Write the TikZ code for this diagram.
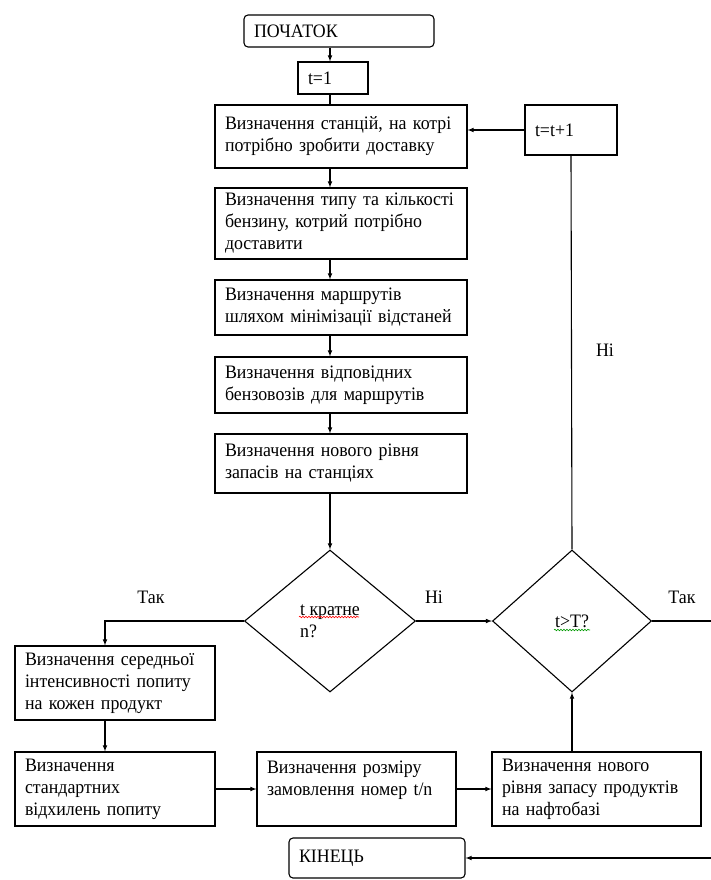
\documentclass[tikz,border=0pt]{standalone}
\usepackage{fontspec}
\setmainfont{Liberation Serif}[FakeStretch=0.94]
\usetikzlibrary{arrows,shapes.geometric,decorations.pathmorphing}

\begin{document}
\begin{tikzpicture}[x=1pt,y=-1pt,line width=1.1pt]
\tikzstyle{strilka} = [-latex]
\tikzstyle{blok} = [draw, rectangle, align=left, inner xsep=10pt, inner ysep=2pt, font=\fontsize{19}{22}\selectfont]
\tikzstyle{kray} = [blok, rounded corners=4pt]
\tikzstyle{romb} = [draw, diamond, align=left, inner sep=0pt, font=\fontsize{19}{22}\selectfont]
\tikzstyle{napys} = [font=\fontsize{19}{22}\selectfont]
\useasboundingbox (0,0) rectangle (711,880);
% top column
\node[kray, text width=170pt, minimum height=32pt] (start) at (339,31) {ПОЧАТОК};
\node[blok, text width=50pt, minimum height=32pt] (t1) at (333,78) {t=1};
\node[blok, text width=232pt, minimum height=63pt] (b1) at (341,136.5) {Визначення станцій, на котрі\\потрібно зробити доставку};
\node[blok, text width=72pt, minimum height=50pt] (tt) at (571,130) {t=t+1};
\node[blok, text width=232pt, minimum height=71pt] (b2) at (341,223.5) {Визначення типу та кількості\\бензину, котрий потрібно\\доставити};
\node[blok, text width=232pt, minimum height=55pt] (b3) at (341,307.5) {Визначення маршрутів\\шляхом мінімізації відстаней};
\node[blok, text width=232pt, minimum height=56pt] (b4) at (341,385) {Визначення відповідних\\бензовозів для маршрутів};
\node[blok, text width=232pt, minimum height=59pt] (b5) at (341,463.5) {Визначення нового рівня\\запасів на станціях};
% decisions
\node[romb, minimum width=171pt, minimum height=142pt] (d1) at (330,621) {t кратне\\n?};
\node[romb, minimum width=159pt, minimum height=142pt] (d2) at (572,621) {t>T?};
% bottom row
\node[blok, text width=180pt, minimum height=74pt] (l1) at (115,683) {Визначення середньої\\інтенсивності попиту\\на кожен продукт};
\node[blok, text width=180pt, minimum height=74pt] (l2) at (115,789) {Визначення\\стандартних\\відхилень попиту};
\node[blok, text width=179pt, minimum height=74pt] (m) at (356.5,789) {Визначення розміру\\замовлення номер t/n\\~};
\node[blok, text width=189pt, minimum height=74pt] (r) at (596.5,789) {Визначення нового\\рівня запасу продуктів\\на нафтобазі};
\node[kray, text width=156pt, minimum height=40pt] (fin) at (377,858) {КІНЕЦЬ};
\coordinate (kut) at (716,621);
% labels
\node[napys] (tak1) at (151,597) {Так};
\node[napys] (ni1) at (434,597) {Ні};
\node[napys] (tak2) at (682,597) {Так};
\node[napys] (ni2) at (605,350) {Ні};
% arrows
\draw[strilka] (start.south -| d1) -- (t1.north -| d1);
\draw (t1.south -| d1) -- (b1.north -| d1);
\draw[strilka] (b1.south -| d1) -- (b2.north -| d1);
\draw[strilka] (b2.south -| d1) -- (b3.north -| d1);
\draw[strilka] (b3.south -| d1) -- (b4.north -| d1);
\draw[strilka] (b4.south -| d1) -- (b5.north -| d1);
\draw[strilka] (b5.south -| d1) -- (d1.north);
\draw[strilka] (tt.west) -- (tt.west -| b1.east);
\draw (d2.north) -- (tt.south);
\draw[strilka] (d1.west) -| ([xshift=-10pt]l1.north);
\draw[strilka] ([xshift=-10pt]l1.south) -- ([xshift=-10pt]l2.north);
\draw[strilka] (d1.east) -- (d2.west);
\draw[strilka] (l2.east) -- (m.west);
\draw[strilka] (m.east) -- (r.west);
\draw[strilka] (r.north -| d2) -- (d2.south);
\draw[strilka] (d2.east) -- (kut) |- (fin.east);
% spell marks
\draw[red, line width=0.6pt, decorate, decoration={snake, amplitude=0.8pt, segment length=3pt}] (299,617) -- (359,617);
\draw[green!60!black, line width=0.6pt, decorate, decoration={snake, amplitude=0.8pt, segment length=3pt}] (554,630) -- (590,630);
\end{tikzpicture}
\end{document}
